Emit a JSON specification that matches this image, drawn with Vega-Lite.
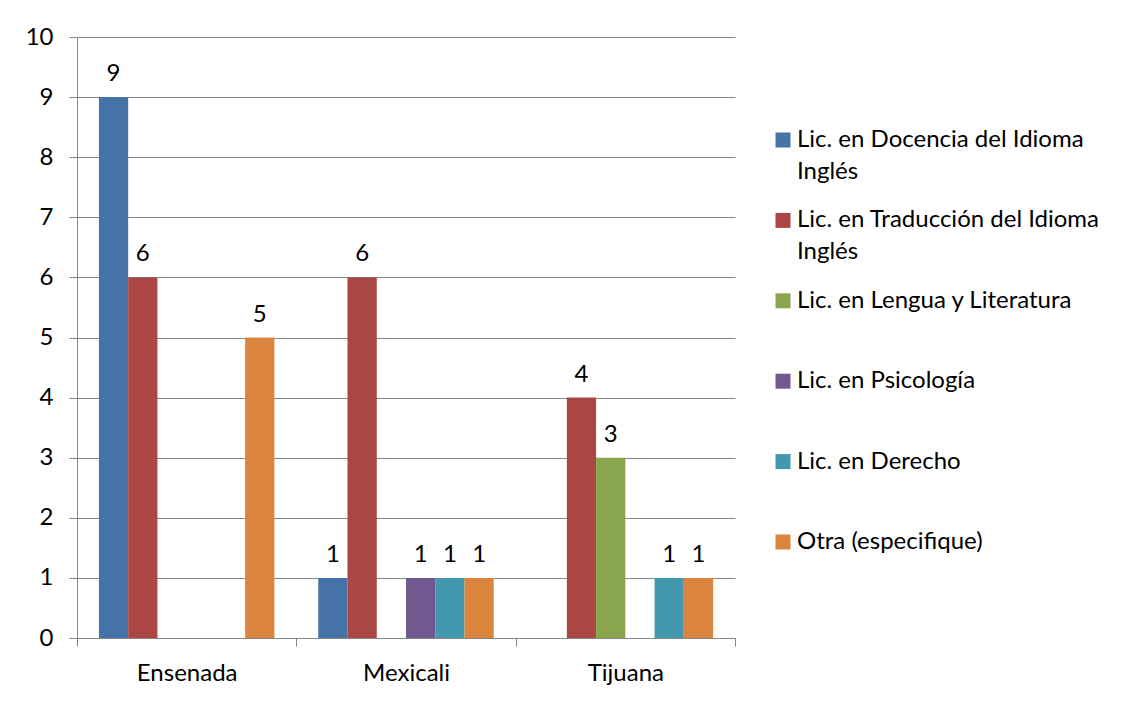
{
  "$schema": "https://vega.github.io/schema/vega-lite/v6.json",
  "width": 658,
  "height": 601,
  "autosize": {"type": "none"},
  "padding": {"left": 77, "top": 37, "right": 400, "bottom": 64},
  "background": "white",
  "config": {
    "font": "Lato",
    "view": {"stroke": null},
    "axis": {"labelFont": "Lato", "labelFontSize": 24, "labelColor": "black", "domainColor": "#868686", "tickColor": "#868686", "gridColor": "#868686", "tickSize": 8, "titlePadding": 0}
  },
  "data": {
    "values": [
      {"ciudad": "Ensenada", "carrera": "Lic. en Docencia del Idioma Inglés", "n": 9},
      {"ciudad": "Ensenada", "carrera": "Lic. en Traducción del Idioma Inglés", "n": 6},
      {"ciudad": "Ensenada", "carrera": "Otra (especifique)", "n": 5},
      {"ciudad": "Mexicali", "carrera": "Lic. en Docencia del Idioma Inglés", "n": 1},
      {"ciudad": "Mexicali", "carrera": "Lic. en Traducción del Idioma Inglés", "n": 6},
      {"ciudad": "Mexicali", "carrera": "Lic. en Psicología", "n": 1},
      {"ciudad": "Mexicali", "carrera": "Lic. en Derecho", "n": 1},
      {"ciudad": "Mexicali", "carrera": "Otra (especifique)", "n": 1},
      {"ciudad": "Tijuana", "carrera": "Lic. en Traducción del Idioma Inglés", "n": 4},
      {"ciudad": "Tijuana", "carrera": "Lic. en Lengua y Literatura", "n": 3},
      {"ciudad": "Tijuana", "carrera": "Lic. en Derecho", "n": 1},
      {"ciudad": "Tijuana", "carrera": "Otra (especifique)", "n": 1}
    ]
  },
  "encoding": {
    "x": {
      "field": "ciudad", "type": "nominal", "title": null,
      "sort": ["Ensenada", "Mexicali", "Tijuana"],
      "scale": {"paddingInner": 0, "paddingOuter": 0},
      "axis": {"labelAngle": 0, "tickBand": "extent", "labelPadding": 15, "grid": false, "domainColor": "#868686"}
    },
    "xOffset": {
      "field": "carrera", "type": "nominal",
      "sort": ["Lic. en Docencia del Idioma Inglés", "Lic. en Traducción del Idioma Inglés", "Lic. en Lengua y Literatura", "Lic. en Psicología", "Lic. en Derecho", "Otra (especifique)"],
      "scale": {"domain": ["Lic. en Docencia del Idioma Inglés", "Lic. en Traducción del Idioma Inglés", "Lic. en Lengua y Literatura", "Lic. en Psicología", "Lic. en Derecho", "Otra (especifique)"], "paddingInner": 0, "paddingOuter": 0.75}
    },
    "y": {
      "field": "n", "type": "quantitative", "title": null,
      "scale": {"domain": [0, 10], "nice": false},
      "axis": {"values": [0,1,2,3,4,5,6,7,8,9,10], "labelPadding": 16, "grid": true, "domain": true, "domainColor": "#868686", "gridColor": "#868686"}
    }
  },
  "layer": [
    {
      "mark": {"type": "bar"},
      "encoding": {
        "color": {
          "field": "carrera", "type": "nominal",
          "scale": {
            "domain": ["Lic. en Docencia del Idioma Inglés", "Lic. en Traducción del Idioma Inglés", "Lic. en Lengua y Literatura", "Lic. en Psicología", "Lic. en Derecho", "Otra (especifique)"],
            "range": ["#4572A7", "#AA4643", "#89A54E", "#71588F", "#4198AF", "#DB843D"]
          },
          "legend": {
            "title": null,
            "orient": "none",
            "legendX": 694,
            "legendY": 91,
            "symbolType": "square",
            "symbolSize": 225,
            "symbolStrokeWidth": 0,
            "labelFont": "Lato",
            "labelFontSize": 24,
            "labelColor": "black",
            "labelLimit": 400,
            "labelOffset": 2,
            "labelBaseline": "middle",
            "rowPadding": 24.4,
            "labelExpr": "datum.label == 'Lic. en Docencia del Idioma Inglés' ? ['Lic. en Docencia del Idioma', 'Inglés'] : datum.label == 'Lic. en Traducción del Idioma Inglés' ? ['Lic. en Traducción del Idioma', 'Inglés'] : [datum.label, '']",
            "encode": {"labels": {"update": {"lineHeight": {"value": 32}}}}
          }
        }
      }
    },
    {
      "mark": {"type": "text", "baseline": "bottom", "dy": -11, "fontSize": 24, "font": "Lato", "color": "black"},
      "encoding": {"text": {"field": "n", "type": "quantitative"}}
    }
  ]
}
